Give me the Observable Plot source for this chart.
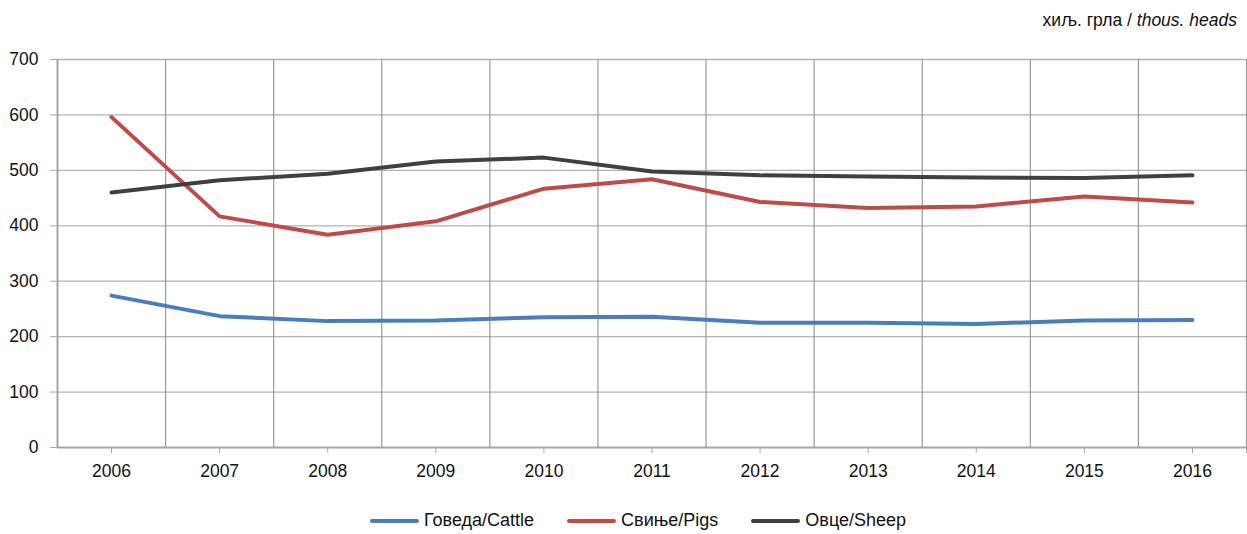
<!DOCTYPE html>
<html>
<head>
<meta charset="utf-8">
<script src="https://cdn.jsdelivr.net/npm/d3@7"></script>
<script src="https://cdn.jsdelivr.net/npm/@observablehq/plot@0.6"></script>
<style>
  html, body { margin: 0; padding: 0; background: #fff; }
  body { font-family: "Liberation Sans", Arial, sans-serif; }
  #wrap { position: relative; width: 1247px; height: 534px; overflow: hidden; }
  #unit { position: absolute; top: 10px; right: 10px; font-size: 17.5px; color: #111; white-space: nowrap; }
  #chart { position: absolute; left: 0; top: 0; }
  #legend { position: absolute; top: 510px; left: 370px; display: flex; font-size: 18px; color: #111; white-space: nowrap; }
  .item { display: flex; align-items: center; margin-right: 33px; }
  .swatch { width: 49px; height: 4px; border-radius: 2px; margin-right: 5px; }
</style>
</head>
<body>
<div id="wrap">
  <div id="chart"></div>
  <div id="unit">хиљ. грла / <i>thous. heads</i></div>
  <div id="legend"></div>
</div>
<script>
const years = [2006, 2007, 2008, 2009, 2010, 2011, 2012, 2013, 2014, 2015, 2016];
const cattle = [274, 237, 228, 229, 235, 236, 225, 225, 223, 229, 230];
const pigs   = [596, 417, 384, 408, 467, 484, 443, 432, 435, 453, 442];
const sheep  = [460, 482, 494, 516, 523, 498, 491, 489, 487, 486, 491];
const seriesNames = ["Говеда/Cattle", "Свиње/Pigs", "Овце/Sheep"];
const seriesColors = ["#4a7ebb", "#be4b48", "#404040"];
const yTicks = [0, 100, 200, 300, 400, 500, 600, 700];

const seriesValues = [cattle, pigs, sheep];
const data = [];
seriesNames.forEach((name, i) => {
  years.forEach((yr, j) => data.push({ year: yr, value: seriesValues[i][j], series: name }));
});
const boundaries = years.map(y => y - 0.5).concat([years[years.length - 1] + 0.5]);

const plot = Plot.plot({
  width: 1247,
  height: 480,
  marginTop: 59,
  marginBottom: 33,
  marginLeft: 57,
  marginRight: 1,
  style: { fontFamily: "'Liberation Sans', Arial, sans-serif", fontSize: "17.5px", color: "#111", background: "#fff" },
  x: { type: "linear", domain: [years[0] - 0.5, years[years.length - 1] + 0.5] },
  y: { type: "linear", domain: [0, 700] },
  color: { domain: seriesNames, range: seriesColors },
  marks: [
    Plot.ruleY(yTicks.slice(1), { stroke: "#b3b3b3", strokeWidth: 1.3, strokeOpacity: 1 }),
    Plot.ruleX(boundaries.slice(1), { stroke: "#999", strokeWidth: 1.2, strokeOpacity: 1 }),
    Plot.axisY({ ticks: yTicks, tickSize: 7, tickPadding: 12, stroke: "#a6a6a6", strokeOpacity: 1, label: null, fontSize: 17.5 }),
    Plot.axisX({ ticks: years, tickFormat: "d", tickSize: 6, tickPadding: 11, stroke: "#a6a6a6", strokeOpacity: 1, label: null, fontSize: 17.5 }),
    Plot.ruleX([boundaries[boundaries.length - 1]], { y1: 0, y2: 0, insetBottom: -6, stroke: "#a6a6a6", strokeOpacity: 1 }),
    Plot.ruleY([0], { stroke: "#a6a6a6", strokeWidth: 2, strokeOpacity: 1 }),
    Plot.ruleX([boundaries[0]], { stroke: "#a6a6a6", strokeWidth: 2, strokeOpacity: 1 }),
    Plot.line(data, { x: "year", y: "value", z: "series", stroke: "series", strokeWidth: 4, strokeLinecap: "round", strokeLinejoin: "round" })
  ]
});
document.getElementById("chart").appendChild(plot);

const legend = document.getElementById("legend");
seriesNames.forEach((n, i) => {
  const it = document.createElement("div");
  it.className = "item";
  it.innerHTML = `<span class="swatch" style="background:${seriesColors[i]}"></span><span>${n}</span>`;
  legend.appendChild(it);
});
</script>
</body>
</html>
